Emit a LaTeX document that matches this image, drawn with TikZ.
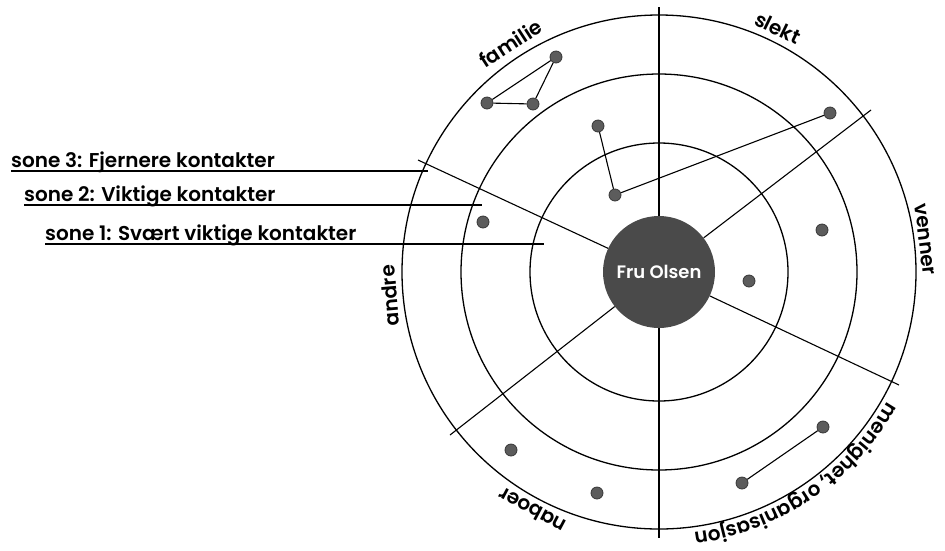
\documentclass[tikz,border=0pt]{standalone}
\usepackage{fontspec}
\usetikzlibrary{decorations.text}
\newfontfamily\labfont{Poppins SemiBold}
\definecolor{hubfill}{RGB}{74,74,74}
\definecolor{dotfill}{RGB}{92,92,92}
\definecolor{dotedge}{RGB}{55,55,55}
\tikzset{
  ring/.style={draw=black, line width=1.3pt},
  spoke/.style={draw=black, line width=1.1pt},
  link/.style={draw=black, line width=1.1pt},
  contact/.style={circle, fill=dotfill, draw=dotedge, line width=0.8pt, inner sep=0pt, minimum size=12pt},
  hub/.style={circle, fill=hubfill, inner sep=0pt, minimum size=112pt, text=white,
    font=\labfont\fontsize{18}{20}\selectfont},
  zone/.style={font=\labfont\fontsize{20}{22}\selectfont, inner sep=0pt, anchor=base west},
  under/.style={draw=black, line width=1.3pt},
  sector/.style={font=\labfont\fontsize{20}{22}\selectfont, inner sep=0pt, anchor=base},
  arclabel/.style={decorate, decoration={text along path, text align=center,
    text={|\labfont\fontsize{20}{22}\selectfont|#1}}}
}
\begin{document}
\begin{tikzpicture}[x=1pt,y=1pt]
\path[use as bounding box, fill=white] (0,0) rectangle (945,-550);
\coordinate (C) at (659,-272);
% rings
\draw[ring] (C) circle[radius=129];
\draw[ring] (C) circle[radius=198];
\draw[ring] (C) circle[radius=257];
% hub
\node[hub] (fru) at (C) {Fru Olsen};
% spokes
\coordinate (eU) at (659,-7);
\coordinate (eUR) at (871,-110);
\coordinate (eLR) at (899,-385);
\coordinate (eD) at (659,-538);
\coordinate (eLL) at (450,-435);
\coordinate (eUL) at (418,-160);
\foreach \e in {eU,eUR,eLR,eD,eLL,eUL} \draw[spoke] (fru) -- (\e);
% zone labels
\node[zone] (s3) at (11,-167) {sone 3: Fjernere kontakter};
\node[zone] (s2) at (24,-201) {sone 2: Viktige kontakter};
\node[zone] (s1) at (45,-240) {sone 1: Svært viktige kontakter};
\coordinate (u3) at (428,-171);
\coordinate (u2) at (482,-205);
\coordinate (u1) at (544,-244);
\draw[under] (s3.base west |- u3) -- (u3);
\draw[under] (s2.base west |- u2) -- (u2);
\draw[under] (s1.base west |- u1) -- (u1);
% contacts
\node[contact] (f1) at (556,-57) {};
\node[contact] (f2) at (487,-103) {};
\node[contact] (f3) at (533,-104) {};
\node[contact] (d1) at (598,-126) {};
\node[contact] (d2) at (615,-195) {};
\node[contact] (d3) at (830,-113) {};
\node[contact] (d4) at (483,-222) {};
\node[contact] (d5) at (822,-230) {};
\node[contact] (d6) at (749,-281) {};
\node[contact] (d7) at (511,-450) {};
\node[contact] (d8) at (597,-493) {};
\node[contact] (d9) at (823,-427) {};
\node[contact] (d10) at (742,-483) {};
\draw[link] (f1) -- (f2) -- (f3) -- (f1);
\draw[link] (d1) -- (d2) -- (d3);
\draw[link] (d9) -- (d10);
% sector labels
\node[sector, rotate=33] (lfam) at ([shift={(C)}]123:265) {familie};
\node[sector, rotate=-26] (lslk) at ([shift={(C)}]64:264) {slekt};
\node[sector, rotate=-83] (lven) at ([shift={(C)}]7:262) {venner};
\node[sector, rotate=152] (lnab) at ([shift={(C)}]-118:263) {naboer};
\node[sector, rotate=95] (land) at ([shift={(C)}]185:263) {andre};
\path[arclabel={menighet, organisasjon}] ([shift={(C)}]-5:263) arc[start angle=-5, end angle=-107, radius=263];
\end{tikzpicture}
\end{document}
